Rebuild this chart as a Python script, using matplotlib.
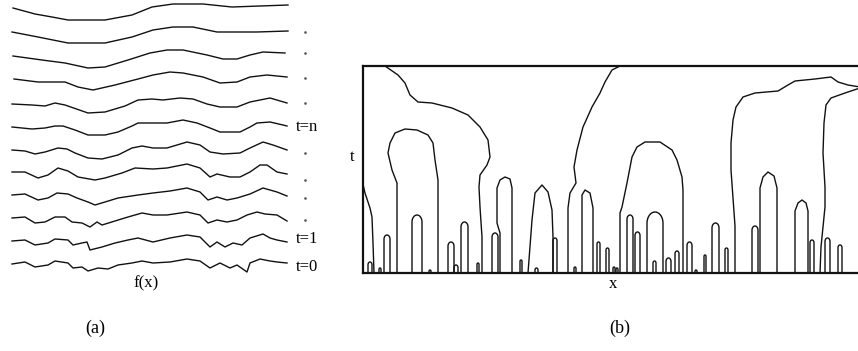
import numpy as np
import matplotlib
matplotlib.use("Agg")
import matplotlib.pyplot as plt

plt.rcParams['font.family'] = ['Liberation Serif', 'DejaVu Serif']

# ---- panel (a): smoothed profiles f(x, t) (pixel rows) ----
curve_x = [
    [13, 35, 52, 68, 85, 105, 132, 152, 173, 203, 232, 260, 288],
    [12, 38, 68, 105, 132, 153, 173, 193, 217, 257, 288],
    [13, 42, 65, 88, 105, 128, 150, 167, 183, 207, 223, 237, 250, 263, 285],
    [14, 38, 65, 78, 93, 115, 138, 153, 170, 183, 203, 220, 237, 250, 267, 287],
    [12, 32, 45, 55, 65, 88, 105, 125, 138, 152, 163, 180, 193, 207, 220, 237, 250, 270, 287],
    [12, 32, 45, 55, 63, 75, 88, 105, 118, 132, 138, 152, 167, 183, 197, 210, 220, 240, 250, 257, 270, 283, 287],
    [12, 25, 35, 45, 58, 67, 75, 88, 102, 118, 132, 142, 153, 167, 187, 200, 210, 223, 240, 250, 263, 273, 287],
    [12, 25, 38, 48, 58, 68, 78, 95, 105, 122, 135, 153, 167, 187, 200, 210, 217, 230, 240, 250, 260, 267, 277, 287],
    [12, 25, 38, 48, 57, 68, 77, 88, 95, 105, 118, 138, 153, 170, 187, 200, 208, 217, 227, 237, 250, 263, 277, 287],
    [12, 25, 35, 45, 55, 65, 72, 82, 90, 97, 102, 115, 128, 142, 153, 167, 187, 200, 208, 217, 227, 237, 247, 257, 265, 277, 287],
    [12, 25, 35, 48, 55, 68, 73, 82, 87, 90, 102, 115, 128, 138, 153, 170, 187, 200, 210, 217, 225, 233, 242, 250, 263, 270, 277, 287],
    [12, 25, 35, 48, 55, 68, 73, 82, 88, 98, 108, 118, 132, 142, 153, 170, 187, 200, 210, 220, 230, 237, 247, 250, 260, 270, 277, 287],
]
curve_y = [
    [8, 14, 17, 20, 20, 20, 15, 7, 4, 4, 7, 6, 5],
    [32, 37, 43, 43, 37, 30, 27, 27, 32, 32, 31],
    [56, 60, 63, 68, 67, 60, 53, 50, 50, 55, 59, 59, 55, 52, 53],
    [79, 82, 82, 87, 90, 85, 79, 75, 72, 73, 77, 83, 82, 77, 75, 77],
    [104, 105, 106, 103, 105, 113, 112, 106, 100, 99, 100, 98, 99, 104, 107, 107, 102, 98, 103],
    [127, 129, 128, 126, 126, 130, 135, 135, 132, 126, 123, 123, 123, 120, 123, 128, 132, 132, 127, 123, 122, 125, 126],
    [150, 151, 154, 152, 148, 149, 153, 158, 159, 155, 148, 146, 148, 148, 142, 145, 152, 154, 153, 148, 142, 145, 150],
    [172, 172, 178, 175, 168, 171, 177, 180, 178, 173, 168, 169, 168, 164, 168, 177, 174, 177, 177, 172, 165, 165, 172, 174],
    [195, 194, 200, 198, 193, 194, 198, 202, 205, 202, 198, 195, 193, 191, 188, 192, 200, 197, 200, 198, 194, 188, 192, 196],
    [218, 217, 223, 222, 217, 217, 222, 223, 227, 222, 225, 221, 217, 213, 215, 215, 212, 215, 223, 220, 222, 220, 215, 212, 214, 215, 221],
    [241, 240, 245, 243, 239, 240, 245, 243, 242, 250, 247, 243, 240, 238, 242, 238, 235, 237, 247, 242, 247, 243, 245, 238, 234, 238, 240, 242],
    [264, 262, 267, 265, 261, 263, 268, 267, 271, 268, 269, 265, 263, 261, 263, 262, 259, 261, 268, 263, 268, 265, 272, 263, 259, 261, 262, 263],
]
dot_y = [32, 53, 78, 103, 153, 180, 198, 220]
scale_labels = {"t=n": 127, "t=1": 239, "t=0": 267}

# ---- panel (b): scale-space fingerprint (x, t) ----
# large irregular contours
contour_x = [
    [385, 398, 405, 410, 418, 432, 452, 468, 480, 488, 490, 487, 480, 479, 480, 482, 482],
    [362, 365, 370, 372, 373, 374],
    [397, 397, 392, 388, 390, 395, 405, 417, 428, 433, 435, 438, 438],
    [500, 500, 497, 497, 500, 505, 510, 512, 512],
    [528, 532, 535, 542, 548, 552, 553, 553],
    [620, 612, 605, 600, 592, 583, 577, 574, 576, 570, 568, 568],
    [582, 582, 585, 590, 593, 593],
    [620, 620, 622, 627, 632, 637, 645, 660, 672, 677, 682, 683, 683],
    [735, 735, 731, 731, 733, 736, 743, 755, 778, 788, 795, 815, 831, 838, 848, 860],
    [860, 845, 831, 826, 824, 823, 825, 825, 823, 821, 820],
    [760, 760, 763, 768, 774, 777, 777],
    [795, 795, 798, 802, 806, 808, 808],
]
contour_t = [
    [207, 198, 190, 178, 171, 170, 165, 158, 146, 133, 116, 108, 98, 86, 66, 36, 0],
    [93, 80, 65, 56, 30, 0],
    [0, 90, 103, 120, 130, 140, 144, 143, 138, 130, 113, 93, 0],
    [0, 40, 50, 85, 93, 96, 94, 85, 0],
    [0, 53, 80, 88, 81, 63, 36, 0],
    [207, 203, 191, 180, 166, 146, 123, 106, 90, 80, 65, 0],
    [0, 78, 83, 80, 65, 0],
    [0, 60, 66, 90, 116, 126, 131, 131, 123, 113, 96, 83, 0],
    [0, 47, 103, 130, 153, 166, 176, 180, 182, 188, 192, 194, 196, 191, 188, 186],
    [185, 180, 175, 168, 150, 120, 86, 66, 46, 26, 0],
    [0, 85, 96, 101, 97, 85, 0],
    [0, 62, 70, 73, 70, 62, 0],
]
# small arches near the fine scales: left base, right base, top
arch_left = [368, 379, 384, 412, 429, 448, 454, 461, 477, 492, 520, 535, 553, 574, 597,
             606, 613, 616, 627, 635, 647, 653, 666, 675, 687, 695, 704, 712, 725, 752,
             810, 825, 838]
arch_right = [372, 381, 390, 422, 431, 454, 458, 468, 479, 498, 522, 538, 557, 576, 600,
              609, 615, 618, 633, 640, 663, 656, 671, 679, 692, 697, 706, 719, 728, 758,
              814, 830, 842]
arch_top = [11, 5, 38, 58, 3, 31, 8, 51, 10, 40, 13, 5, 35, 6, 31,
            25, 6, 5, 58, 41, 61, 12, 15, 22, 31, 3, 18, 50, 25, 47,
            33, 35, 28]

fig = plt.figure(figsize=(8.58, 3.51), dpi=100)

ax = fig.add_axes([0, 0, 1, 1])
ax.set_xlim(0, 858)
ax.set_ylim(351, 0)
ax.axis('off')

for xs, ys in zip(curve_x, curve_y):
    ax.plot(xs, ys, color='#111111', lw=1.0)
ax.plot([305] * len(dot_y), dot_y, 's', color='#555555', ms=0.8)
for lab, yy in scale_labels.items():
    ax.text(296, yy, lab, fontsize=12, va='center', ha='left')
ax.text(146, 283, "f(x)", fontsize=12, ha='center', va='center')
ax.text(95, 328, "(a)", fontsize=13, ha='center', va='center')
ax.text(620, 328, "(b)", fontsize=13, ha='center', va='center')
ax.text(352, 157, "t", fontsize=12, ha='center', va='center')
ax.text(613, 284, "x", fontsize=12, ha='center', va='center')

# fingerprint panel
axb = fig.add_axes([363 / 858, (351 - 273) / 351, 1 - 363 / 858, 207 / 351])
axb.set_xlim(363, 858)
axb.set_ylim(0, 207)
axb.set_xticks([])
axb.set_yticks([])
for side in ['top', 'left', 'bottom']:
    axb.spines[side].set_linewidth(1.6)
    axb.spines[side].set_color('#111111')
axb.spines['right'].set_visible(False)

for xs, ts in zip(contour_x, contour_t):
    axb.plot(xs, ts, color='#111111', lw=1.0, clip_on=True)

ang = np.linspace(np.pi, 0, 20)
for l, r, h in zip(arch_left, arch_right, arch_top):
    rx = (r - l) / 2.0
    ry = min(max(rx * 1.4, 1.0), h * 0.5)
    cx = (l + r) / 2.0
    xs = np.concatenate([[l], cx + rx * np.cos(ang), [r]])
    ts = np.concatenate([[0], h - ry + ry * np.sin(ang), [0]])
    axb.plot(xs, ts, color='#111111', lw=1.0)

fig.savefig("out.png", dpi=100)
